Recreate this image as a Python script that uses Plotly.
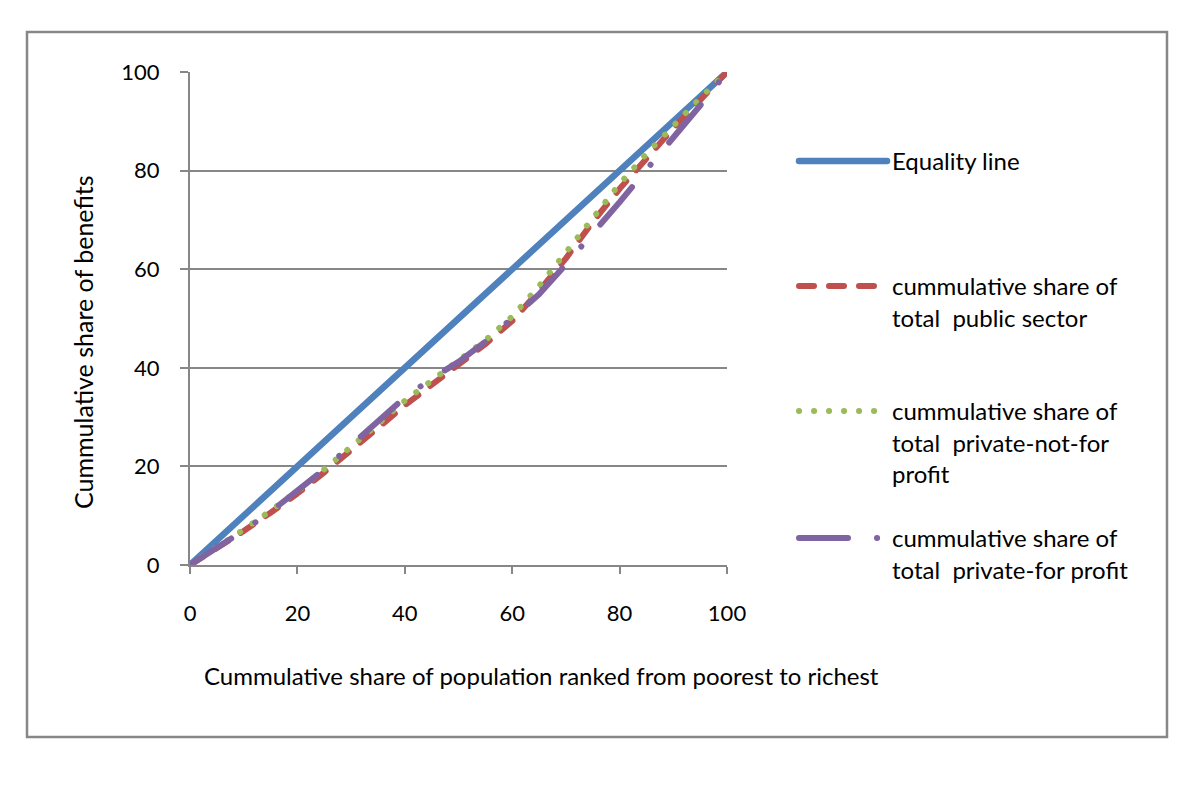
import plotly.graph_objects as go

# ---- data ----
population_share = [0, 5, 10, 15, 20, 25, 30, 35, 40, 45, 50,
                    55, 60, 65, 70, 75, 80, 85, 90, 95, 100]
equality_line = [0, 5, 10, 15, 20, 25, 30, 35, 40, 45, 50,
                 55, 60, 65, 70, 75, 80, 85, 90, 95, 100]
public_sector = [0, 3.3, 6.9, 10.6, 14.5, 18.8, 23.2, 27.8, 32.4, 36.5, 40.5,
                 44.8, 49.5, 55.6, 62.2, 69.6, 76.3, 82.6, 88.6, 94.3, 100]
private_not_for_profit = [0, 3.5, 7.2, 11.0, 15.0, 19.4, 23.9, 28.6, 33.3, 37.4, 41.3,
                          45.6, 50.4, 56.6, 63.4, 70.6, 77.3, 83.4, 89.2, 94.7, 100]
private_for_profit = [0, 3.4, 7.0, 10.8, 15.0, 19.4, 24.3, 29.2, 34.0, 37.8, 41.2,
                      45.3, 50.0, 54.9, 61.0, 67.1, 73.6, 80.2, 86.6, 93.2, 100]
tick_values = [0, 20, 40, 60, 80, 100]

series_names = [
    "Equality line",
    "cummulative share of<br>total  public sector",
    "cummulative share of<br>total  private-not-for<br>profit",
    "cummulative share of<br>total  private-for profit",
]

FONT = "Lato, 'Open Sans', sans-serif"
GRAY = "#878787"

fig = go.Figure()
fig.add_trace(go.Scatter(x=population_share, y=equality_line, mode="lines",
                         name=series_names[0], legend="legend",
                         line=dict(color="#4F81BD", width=6.5), cliponaxis=False))
fig.add_trace(go.Scatter(x=population_share, y=public_sector, mode="lines",
                         name=series_names[1], legend="legend2",
                         line=dict(color="#C0504D", width=6, dash="15px,15px"), cliponaxis=False))
fig.add_trace(go.Scatter(x=population_share, y=private_not_for_profit, mode="lines",
                         name=series_names[2], legend="legend3",
                         line=dict(color="#9BBB59", width=6, dash="0.1px,14.9px"), cliponaxis=False))
fig.add_trace(go.Scatter(x=population_share, y=private_for_profit, mode="lines",
                         name=series_names[3], legend="legend4",
                         line=dict(color="#8064A2", width=6, dash="49px,29px,0.1px,29px"), cliponaxis=False))

# page pixel geometry (the page body has an 8px margin)
OFF = 8
L, R, T, B = 190, 727, 72, 565
W, H = 1200 - 2 * OFF, 789 - 2 * OFF
pw, ph = R - L, B - T


def px_x(px):
    return (px - L) / pw


def px_y(py):
    return (B - py) / ph


legend_common = dict(font=dict(family=FONT, size=24, color="black"),
                     bgcolor="rgba(0,0,0,0)", borderwidth=0, itemwidth=88,
                     valign="top", xanchor="left", yanchor="top", x=px_x(794))

fig.update_layout(
    width=W, height=H,
    margin=dict(l=L - OFF, r=W - (R - OFF), t=T - OFF, b=H - (B - OFF), pad=0),
    paper_bgcolor="white", plot_bgcolor="white",
    font=dict(family=FONT, size=22, color="black"),
    showlegend=True,
    legend=dict(**legend_common, y=px_y(139)),
    legend2=dict(**legend_common, y=px_y(264)),
    legend3=dict(**legend_common, y=px_y(389)),
    legend4=dict(**legend_common, y=px_y(516)),
    xaxis=dict(range=[0, 100], tickvals=tick_values, showgrid=False, zeroline=False,
               showline=True, linecolor=GRAY, linewidth=2,
               ticks="outside", ticklen=7, tickwidth=2, tickcolor=GRAY,
               ticklabelstandoff=21,
               tickfont=dict(family=FONT, size=22, color="black")),
    yaxis=dict(range=[0, 100], tickvals=tick_values, showgrid=True, gridcolor=GRAY, gridwidth=2,
               zeroline=False, showline=True, linecolor=GRAY, linewidth=2,
               ticks="outside", ticklen=8, tickwidth=2, tickcolor=GRAY,
               ticklabelstandoff=16,
               tickfont=dict(family=FONT, size=22, color="black")),
    shapes=[dict(type="rect", xref="paper", yref="paper",
                 x0=px_x(27), x1=px_x(1167), y0=px_y(737), y1=px_y(32),
                 line=dict(color=GRAY, width=2.5), fillcolor="rgba(0,0,0,0)", layer="below")],
    annotations=[
        dict(text="Cummulative share of benefits", xref="paper", yref="paper",
             x=px_x(83), y=px_y(342), textangle=-90, showarrow=False,
             xanchor="center", yanchor="middle",
             font=dict(family=FONT, size=25, color="black")),
        dict(text="Cummulative share of population ranked from poorest to richest",
             xref="paper", yref="paper", x=px_x(541), y=px_y(675), showarrow=False,
             xanchor="center", yanchor="middle",
             font=dict(family=FONT, size=24, color="black")),
    ],
)

round_caps = """
var gd = document.getElementById('{plot_id}');
function rc(){
  document.querySelectorAll('path.js-line').forEach(function(p){
    p.style.strokeLinecap = 'round';
    p.style.strokeLinejoin = 'round';
  });
}
rc();
if (gd && gd.on) { gd.on('plotly_afterplot', rc); }
setTimeout(rc, 50);
setTimeout(rc, 300);
"""

fig.write_html("out.html", post_script=round_caps)
